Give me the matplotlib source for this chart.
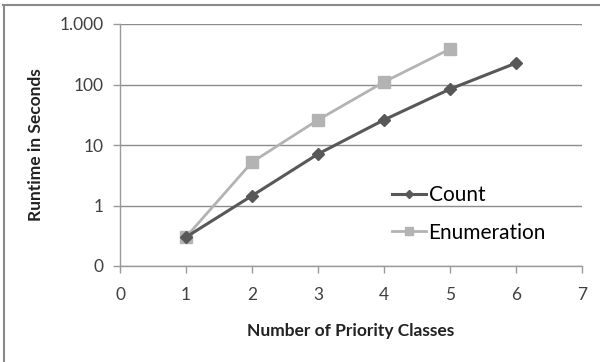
import matplotlib
matplotlib.use("Agg")
import matplotlib.pyplot as plt
from matplotlib.lines import Line2D
from matplotlib.ticker import FixedLocator, FixedFormatter, NullLocator

plt.rcParams['font.family'] = ['Lato', 'DejaVu Sans']

classes_count = [1, 2, 3, 4, 5, 6]
runtime_count = [0.30, 1.45, 7.1, 26, 84, 226]
classes_enum = [1, 2, 3, 4, 5]
runtime_enum = [0.30, 5.2, 26, 110, 386]

y_ticks = [0.1, 1, 10, 100, 1000]
y_labels = ["0", "1", "10", "100", "1.000"]
x_ticks = [0, 1, 2, 3, 4, 5, 6, 7]

fig = plt.figure(figsize=(6.0, 3.62), dpi=100)
ax = fig.add_axes([120 / 600, 1 - 266 / 362, 462 / 600, 242 / 362])

ax.set_yscale('log')
ax.set_xlim(0, 7)
ax.set_ylim(0.1, 1000)

ax.plot(classes_count, runtime_count, color='#585858', lw=2.2, marker='D',
        ms=6, label='Count', zorder=4)
ax.plot(classes_enum, runtime_enum, color='#b3b3b3', lw=2.0, marker='s',
        ms=8, label='Enumeration', zorder=3)

ax.yaxis.set_major_locator(FixedLocator(y_ticks))
ax.yaxis.set_major_formatter(FixedFormatter(y_labels))
ax.yaxis.set_minor_locator(NullLocator())
ax.set_xticks(x_ticks)
ax.set_xticklabels([str(v) for v in x_ticks])

ax.grid(axis='y', color='#8c8c8c', lw=1.0)
ax.set_axisbelow(True)
for side in ('top', 'right'):
    ax.spines[side].set_visible(False)
for side in ('left', 'bottom'):
    ax.spines[side].set_color('#9a9a9a')
    ax.spines[side].set_linewidth(1.0)

ax.tick_params(axis='both', colors='#9a9a9a', length=5, width=1.0,
               labelsize=12.5, labelcolor='#404040')
ax.tick_params(axis='x', pad=10)
ax.tick_params(axis='y', pad=7)

ax.set_xlabel('Number of Priority Classes', fontsize=12.5, fontweight='bold',
              color='#222222', va='top')
ax.xaxis.set_label_coords(0.5, -0.235)
ax.set_ylabel('Runtime in Seconds', fontsize=12.5, fontweight='bold',
              color='#222222', va='bottom')
ax.yaxis.set_label_coords(-0.165, 0.5)

ax.legend(loc='upper left', bbox_to_anchor=(0.588, 0.335), frameon=False,
          fontsize=15, handlelength=1.65, handletextpad=0.12,
          labelspacing=0.85, borderpad=0, borderaxespad=0, markerscale=0.75)

# outer chart border (top and left edges)
fig.add_artist(Line2D([3 / 600, 1.0], [1 - 5 / 362, 1 - 5 / 362],
                      transform=fig.transFigure, color='#8a8a8a', lw=1.5))
fig.add_artist(Line2D([4 / 600, 4 / 600], [0.0, 1 - 5 / 362],
                      transform=fig.transFigure, color='#8a8a8a', lw=1.5))

fig.savefig('out.png', dpi=100, facecolor='white')
